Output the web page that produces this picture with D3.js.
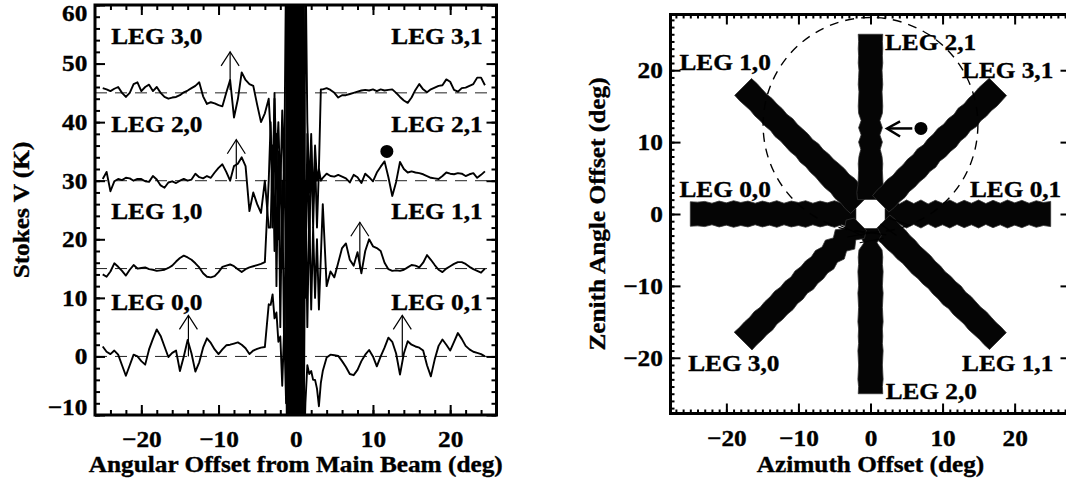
<!DOCTYPE html>
<html><head><meta charset="utf-8">
<script src="https://cdn.jsdelivr.net/npm/d3@7"></script>
<style>
body{margin:0;background:#fff}
svg{display:block}
text{font-family:'Liberation Serif','Times New Roman',serif;font-weight:bold;font-size:23px;fill:#000;stroke:#000;stroke-width:0.35px}
</style></head>
<body><svg id="c" width="1066" height="482"></svg>
<script>
// ---------------- LEFT PANEL DATA ----------------
const angOffset = [-25,-24.5,-24,-23.5,-23,-22.5,-22,-21.5,-21,-20.5,-20,-19.5,-19,-18.5,-18,-17.5,-17,-16.5,-16,-15.5,-15,-14.5,-14,-13.5,-13,-12.5,-12,-11.5,-11,-10.5,-10,-9.5,-9,-8.5,-8,-7.5,-7,-6.5,-6,-5.5,-5,-4.5,-4,-3.5,
 -3.25,-3,-2.75,-2.5,-2.25,-2,-1.75,-1.5,-1.25,
 -1.125,-1,-0.875,-0.75,-0.625,-0.5,-0.375,-0.25,-0.125,0,0.125,0.25,0.375,0.5,0.625,0.75,0.875,1,
 1.25,1.5,1.75,2,2.25,2.5,2.75,3,3.25,
 3.5,4,4.5,5,5.5,6,6.5,7,7.5,8,8.5,9,9.5,10,10.5,11,11.5,12,12.5,13,13.5,14,14.5,15,15.5,16,16.5,17,17.5,18,18.5,19,19.5,20,20.5,21,21.5,22,22.5,23,23.5,24,24.5];

const leg3V = [45.8,45.6,45.3,45.7,46.0,45.0,44.3,45.0,46.5,46.8,45.3,46.0,46.4,45.3,46.0,45.0,44.3,44.0,44.2,44.3,44.6,45.1,45.4,45.8,46.2,46.8,44.4,43.1,43.4,43.2,42.9,42.7,45.0,47.2,40.8,43.9,48.5,47.2,46.5,46.2,43.0,40.0,41.5,44.0,
 38,30,44,33,40,28,42,30,68,
 90,-20,100,-30,110,-40,110,-40,120,-50,120,-40,110,-40,100,-30,90,-10,
 70,40,28,38,26,36,30,32,45.6,
 45.6,45.8,45.5,45.0,44.2,44.6,44.6,44.8,45.0,45.2,45.4,45.5,45.4,45.6,45.3,45.6,45.4,45.5,45.6,45.0,44.3,43.7,43.3,44.2,45.5,46.5,45.6,45.1,45.6,45.9,46.2,46.3,47.3,46.9,45.5,45.2,45.8,45.9,46.2,46.5,47.6,47.6,46.3];

const leg2V = [30.3,31.5,28.2,29.9,30.3,30.1,30.5,30.4,30.0,30.3,30.3,29.9,29.8,30.8,30.2,29.2,28.8,29.7,29.9,29.6,30.0,30.3,30.0,30.2,31.2,30.6,30.4,30.8,30.5,31.4,32.2,32.8,31.5,30.0,32.5,32.9,34.0,32.5,24.8,28.0,26.0,24.5,30.0,22,
 22,36,18,38,20,34,15,38,10,
 -20,90,-30,100,-35,110,-40,115,-45,120,-45,115,-40,105,-35,95,-25,70,
 10,38,18,36,22,34,22,32,30,
 30.5,31.2,30.8,30.7,31.0,30.7,30.4,29.7,31.0,30.6,29.6,31.2,30.6,29.9,31.4,32.4,33.3,30.6,27.4,29.8,33.2,32.0,31.4,31.6,31.4,31.3,31.1,30.8,30.5,30.4,30.3,30.8,31.4,31.2,31.1,31.3,31.2,30.8,31.1,31.3,30.5,31.0,31.6];

const leg1V = [14.0,13.6,14.5,15.9,15.3,14.6,13.8,14.8,15.6,15.0,15.1,15.2,14.9,14.8,14.6,14.7,14.8,15.1,15.5,16.2,16.8,17.2,16.9,16.5,15.9,15.2,14.2,13.6,13.5,13.7,14.4,15.3,15.5,15.7,15.4,14.9,14.4,14.9,15.2,15.4,15.6,15.8,16.1,30,
 40,22,45,12,35,5,30,0,25,
 85,-25,95,-35,105,-40,110,-45,115,-45,115,-45,105,-40,100,-30,90,-20,
 30,5,25,8,22,10,20,8,17,
 26,12,14.5,13.5,16.0,18.5,19.3,16.5,15.5,17.8,14.2,18.0,20.0,18.8,18.5,18.0,16.0,14.9,14.6,14.7,14.6,14.8,15.2,15.6,15.5,15.2,16.0,17.3,16.5,15.6,14.8,14.4,15.0,15.4,15.8,16.1,16.1,15.8,15.3,14.9,14.6,14.3,15.0];

const leg0V = [1.7,0.8,0.4,1.0,0.3,-1.5,-3.3,-1.5,0.3,0.0,-0.8,-1.4,1.2,3.0,4.6,3.5,1.7,-0.1,0.6,1.0,-2.5,0.0,2.8,0.5,-2.6,-1.0,1.5,3.1,2.3,1.2,0.4,1.2,1.9,2.0,2.2,2.4,2.0,1.4,0.4,1.0,1.3,1.5,1.6,8.9,
 8.8,10.6,6.5,7.5,2.5,3.4,-5,5,-8,
 60,-30,80,-35,95,-40,100,-45,110,-40,110,-45,100,-40,90,-30,70,-20,
 -8,-1.5,-3,-2.5,-4,-4,-5.5,-8.5,-4.5,
 -2.5,-0.2,0.3,0.2,0.1,-0.8,-1.8,-3.0,-3.2,-2.3,-0.8,0.3,1.1,0.0,-1.7,0.0,1.5,3.2,2.5,0.5,-3.1,0.5,2.6,2.0,1.7,1.5,1.0,-1.5,-3.4,-0.5,1.8,2.9,2.0,1.0,2.5,4.0,3.0,1.8,1.2,0.8,0.6,0.4,0.0];

const legBaselines = [0, 15, 30, 45];
const leftXTicks = [-20, -10, 0, 10, 20];
const leftYTicks = [-10, 0, 10, 20, 30, 40, 50, 60];
const leftLabelsL = ["LEG 0,0", "LEG 1,0", "LEG 2,0", "LEG 3,0"];
const leftLabelsR = ["LEG 0,1", "LEG 1,1", "LEG 2,1", "LEG 3,1"];
const leftLabelY = [8.0, 23.4, 38.3, 53.3];
const arrowX = [-13.9, 13.8, 8.3, -7.7, -8.5];
const arrowBase = [0, 0, 15, 30.3, 45.5];
const arrowTip = [7, 7, 22.9, 37, 52];
const leftDot = [11.8, 35];

// ---------------- RIGHT PANEL DATA ----------------
const legNames = ["LEG 0,0","LEG 0,1","LEG 1,0","LEG 1,1","LEG 2,0","LEG 2,1","LEG 3,0","LEG 3,1"];
const legAngles = [180, 0, 135, -45, -90, 90, -135, 45];
const legRadii = [2,3,4,5,6,7,8,9,10,11,12,13,14,15,16,17,18,19,20,21,22,23,24,25];
const w00 = [3.4,3.6,3.0,3.7,3.1,3.6,3.0,3.7,3.2,3.6,3.0,3.7,3.1,3.6,3.0,3.6,3.2,3.7,3.1,3.6,3.0,3.5,3.3,3.4];
const w01 = [3.0,3.8,2.8,3.9,2.9,3.9,2.8,3.8,3.0,3.9,2.9,3.8,3.0,3.9,2.9,3.8,3.0,3.9,3.1,3.8,3.0,3.7,3.2,3.5];
const w10 = [3.8,3.9,3.7,3.9,3.6,3.8,3.7,3.5,3.6,3.4,3.6,3.3,3.5,3.4,3.3,3.5,3.2,3.4,3.3,3.4,3.2,3.3,3.4,3.3];
const w11 = [3.6,3.8,3.6,3.7,3.5,3.6,3.4,3.5,3.6,3.4,3.5,3.3,3.5,3.4,3.6,3.3,3.5,3.4,3.3,3.5,3.4,3.3,3.4,3.3];
const w20 = [2.0,3.0,1.8,3.2,3.4,3.3,3.5,3.4,3.3,3.5,3.4,3.3,3.4,3.5,3.3,3.4,3.3,3.5,3.4,3.3,3.4,3.5,3.3,3.4];
const w21 = [3.6,3.8,3.5,3.4,3.3,3.4,3.2,2.7,3.3,2.6,3.3,2.6,3.3,3.4,3.3,3.2,3.4,3.3,3.2,3.4,3.3,3.4,3.3,3.4];
const w30 = [2.4,3.6,2.2,3.8,2.6,3.7,3.0,3.6,3.2,3.5,3.3,3.6,3.2,3.5,3.3,3.6,3.4,3.5,3.3,3.6,3.4,3.5,3.4,3.5];
const w31 = [3.2,3.4,3.3,3.5,3.2,3.4,3.3,3.5,3.3,3.6,3.2,3.5,3.4,3.6,3.3,3.5,3.2,3.6,3.3,3.5,3.4,3.6,3.5,3.4];
const legWidths = [w00, w01, w10, w11, w20, w21, w30, w31];
const legLabelX = [-26.5, 13.8, -26.5, 12.7, 2.1, 2.0, -25.3, 12.7];
const legLabelY = [2.4, 2.4, 20.0, -21.9, -25.8, 22.8, -21.9, 18.9];
const rightTicks = [-20, -10, 0, 10, 20];
const beamCircle = [0, 12.4, 14.9];   // centre az, centre za, radius
const centerHole = 2.1;
const centerScratches = [[[-4.2,-1.6],[-1.2,-3.0]],[[-3.2,-3.2],[0.2,-2.6]],[[1.4,-1.4],[3.6,-3.0]],[[-2.2,-2.3],[2.2,-2.9]],[[2.6,-0.6],[5.6,-1.6]],[[-1.5,-4.0],[1.8,-3.4]]];
const rightDot = [7.0, 11.9];
const rightArrow = [5.8, 2.3, 11.9];  // tail x, tip x, y

// ---------------- DRAW ----------------
const svg = d3.select('#c');
const SX = 1.1;
function txt(g, x, y, s, anchor, rot) {
  return g.append('text')
    .attr('transform', `translate(${x},${y}) rotate(${rot||0}) scale(${SX},1)`)
    .attr('text-anchor', anchor || 'start').text(s);
}
function styleAxis(sel, labelled) {
  sel.select('.domain').remove();
  sel.selectAll('line').attr('stroke', '#000').attr('stroke-width', 2);
  if (labelled) sel.selectAll('text').attr('transform', `scale(${SX},1)`);
}

// ---- Left panel
const xL = d3.scaleLinear().domain([-26, 26]).range([95, 496.5]);
const yL = d3.scaleLinear().domain([-10, 60]).range([415, 5]);
const gL = svg.append('g');
svg.append('defs').append('clipPath').attr('id', 'clipL')
  .append('rect').attr('x', xL(-26)).attr('y', yL(60)).attr('width', xL(26) - xL(-26)).attr('height', yL(-10) - yL(60));
const gC = gL.append('g').attr('clip-path', 'url(#clipL)');

legBaselines.forEach(b => {
  gC.append('line').attr('x1', xL(-26)).attr('x2', xL(26)).attr('y1', yL(b)).attr('y2', yL(b))
    .attr('stroke', '#222').attr('stroke-width', 1).attr('stroke-dasharray', '12,8');
});
const lineL = d3.line().x(d => xL(d[0])).y(d => yL(d[1]));
[leg0V, leg1V, leg2V, leg3V].forEach(vals => {
  gC.append('path').datum(vals.map((v, i) => [angOffset[i], v]))
    .attr('d', lineL).attr('fill', 'none').attr('stroke', '#000')
    .attr('stroke-width', 1.9).attr('stroke-linejoin', 'round');
});
// arrows
arrowX.forEach((ax, i) => {
  const x0 = xL(ax), yb = yL(arrowBase[i]), yt = yL(arrowTip[i]);
  const g = gL.append('g').attr('stroke', '#000').attr('stroke-width', 1.2).attr('fill', 'none');
  g.append('line').attr('x1', x0).attr('x2', x0).attr('y1', yb).attr('y2', yt);
  g.append('polyline').attr('points', `${x0-9},${yt+14} ${x0},${yt} ${x0+9},${yt+14}`);
});
gL.append('circle').attr('cx', xL(leftDot[0])).attr('cy', yL(leftDot[1])).attr('r', 6.5).attr('fill', '#000');

// axes left
const xMinorL = d3.range(-24, 25, 2), yMinorL = d3.range(-10, 61, 2);
gL.append('g').attr('transform', `translate(0,${yL(-10)})`).call(d3.axisBottom(xL).tickValues(xMinorL).tickSize(-5).tickFormat('')).call(s => styleAxis(s));
gL.append('g').attr('transform', `translate(0,${yL(-10)})`).call(d3.axisBottom(xL).tickValues(leftXTicks).tickSize(-10).tickPadding(16)).call(s => styleAxis(s, true));
gL.append('g').attr('transform', `translate(0,${yL(60)})`).call(d3.axisTop(xL).tickValues(xMinorL).tickSize(-5).tickFormat('')).call(s => styleAxis(s));
gL.append('g').attr('transform', `translate(0,${yL(60)})`).call(d3.axisTop(xL).tickValues(leftXTicks).tickSize(-10).tickFormat('')).call(s => styleAxis(s));
gL.append('g').attr('transform', `translate(${xL(-26)},0)`).call(d3.axisLeft(yL).tickValues(yMinorL).tickSize(-5).tickFormat('')).call(s => styleAxis(s));
gL.append('g').attr('transform', `translate(${xL(-26)},0)`).call(d3.axisLeft(yL).tickValues(leftYTicks).tickSize(-10).tickPadding(7)).call(s => styleAxis(s, true))
  .selectAll('.tick text').attr('y', d => d === 60 ? 8.5 : d === -10 ? -7.5 : 0);
gL.append('g').attr('transform', `translate(${xL(26)},0)`).call(d3.axisRight(yL).tickValues(yMinorL).tickSize(-5).tickFormat('')).call(s => styleAxis(s));
gL.append('g').attr('transform', `translate(${xL(26)},0)`).call(d3.axisRight(yL).tickValues(leftYTicks).tickSize(-10).tickFormat('')).call(s => styleAxis(s));
gL.append('rect').attr('x', xL(-26)).attr('y', yL(60)).attr('width', xL(26) - xL(-26)).attr('height', yL(-10) - yL(60))
  .attr('fill', 'none').attr('stroke', '#000').attr('stroke-width', 3);

leftLabelsL.forEach((s, i) => txt(gL, xL(-23.9), yL(leftLabelY[i]), s, 'start'));
leftLabelsR.forEach((s, i) => txt(gL, xL(24.2), yL(leftLabelY[i]), s, 'end'));
txt(gL, (xL(-26) + xL(26)) / 2, 472, 'Angular Offset from Main Beam (deg)', 'middle');
txt(gL, 29, (yL(-10) + yL(60)) / 2, 'Stokes V (K)', 'middle', -90);

// ---- Right panel
const xR = d3.scaleLinear().domain([-27.75, 27.75]).range([670.5, 1070.5]);
const yR = d3.scaleLinear().domain([-27.75, 27.75]).range([413.5, 14.5]);
const gR = svg.append('g');
const closed = d3.line().x(d => xR(d[0])).y(d => yR(d[1])).curve(d3.curveLinearClosed);
legAngles.forEach((a, k) => {
  const t = a * Math.PI / 180, c = Math.cos(t), s = Math.sin(t);
  const w = legWidths[k];
  const sideA = legRadii.map((r, i) => [r * c - s * w[i] / 2, r * s + c * w[i] / 2]);
  const sideB = legRadii.map((r, i) => [r * c + s * w[i] / 2, r * s - c * w[i] / 2]).reverse();
  gR.append('path').attr('d', closed(sideA.concat(sideB))).attr('fill', '#050505')
    .attr('stroke', '#333').attr('stroke-width', 0.8);
});
// centre hole
const oct = d3.range(8).map(k => { const t = (22.5 + 45 * k) * Math.PI / 180; return [centerHole * Math.cos(t), centerHole * Math.sin(t)]; });
gR.append('path').attr('d', closed(oct)).attr('fill', '#fff');
centerScratches.forEach(seg => {
  gR.append('line').attr('x1', xR(seg[0][0])).attr('y1', yR(seg[0][1])).attr('x2', xR(seg[1][0])).attr('y2', yR(seg[1][1]))
    .attr('stroke', '#000').attr('stroke-width', 1.2);
});
// dashed beam circle
gR.append('circle').attr('cx', xR(beamCircle[0])).attr('cy', yR(beamCircle[1])).attr('r', xR(beamCircle[2]) - xR(0))
  .attr('fill', 'none').attr('stroke', '#000').attr('stroke-width', 1.4).attr('stroke-dasharray', '9,7');
// arrow and dot
{
  const xt = xR(rightArrow[1]), xe = xR(rightArrow[0]), ya = yR(rightArrow[2]);
  const g = gR.append('g').attr('stroke', '#000').attr('stroke-width', 2.5).attr('fill', 'none');
  g.append('line').attr('x1', xe).attr('x2', xt).attr('y1', ya).attr('y2', ya);
  g.append('polyline').attr('points', `${xt+13},${ya-7} ${xt},${ya} ${xt+13},${ya+8}`);
  gR.append('circle').attr('cx', xR(rightDot[0])).attr('cy', yR(rightDot[1])).attr('r', 6.5).attr('fill', '#000');
}
// axes right
const minorR = d3.range(-27, 28, 1);
gR.append('g').attr('transform', `translate(0,${yR(-27.75)})`).call(d3.axisBottom(xR).tickValues(minorR).tickSize(-4).tickFormat('')).call(s => styleAxis(s));
gR.append('g').attr('transform', `translate(0,${yR(-27.75)})`).call(d3.axisBottom(xR).tickValues(rightTicks).tickSize(-10).tickPadding(16)).call(s => styleAxis(s, true));
gR.append('g').attr('transform', `translate(0,${yR(27.75)})`).call(d3.axisTop(xR).tickValues(minorR).tickSize(-4).tickFormat('')).call(s => styleAxis(s));
gR.append('g').attr('transform', `translate(0,${yR(27.75)})`).call(d3.axisTop(xR).tickValues(rightTicks).tickSize(-10).tickFormat('')).call(s => styleAxis(s));
gR.append('g').attr('transform', `translate(${xR(-27.75)},0)`).call(d3.axisLeft(yR).tickValues(minorR).tickSize(-4).tickFormat('')).call(s => styleAxis(s));
gR.append('g').attr('transform', `translate(${xR(-27.75)},0)`).call(d3.axisLeft(yR).tickValues(rightTicks).tickSize(-10).tickPadding(7)).call(s => styleAxis(s, true));
gR.append('g').attr('transform', `translate(${xR(27.75)},0)`).call(d3.axisRight(yR).tickValues(minorR).tickSize(-4).tickFormat('')).call(s => styleAxis(s));
gR.append('g').attr('transform', `translate(${xR(27.75)},0)`).call(d3.axisRight(yR).tickValues(rightTicks).tickSize(-10).tickFormat('')).call(s => styleAxis(s));
gR.append('rect').attr('x', xR(-27.75)).attr('y', yR(27.75)).attr('width', xR(27.75) - xR(-27.75)).attr('height', yR(-27.75) - yR(27.75))
  .attr('fill', 'none').attr('stroke', '#000').attr('stroke-width', 3);

legNames.forEach((s, k) => txt(gR, xR(legLabelX[k]), yR(legLabelY[k]), s, 'start'));
txt(gR, xR(0), 472, 'Azimuth Offset (deg)', 'middle');
txt(gR, 605, yR(0), 'Zenith Angle Offset (deg)', 'middle', -90);
</script></body></html>
